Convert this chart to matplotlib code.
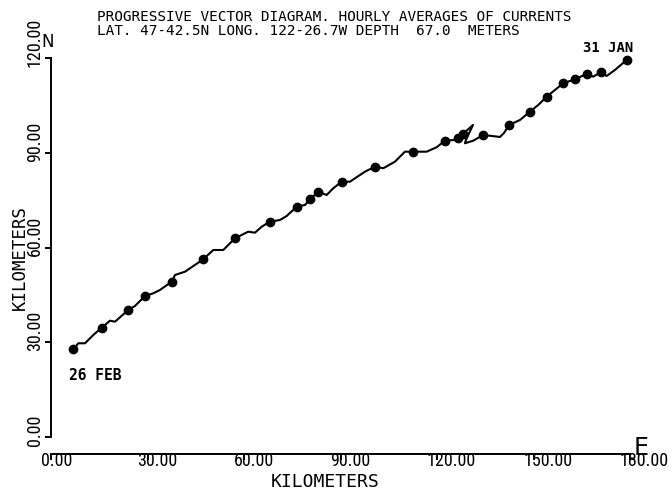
import matplotlib
matplotlib.use('Agg')
import matplotlib.pyplot as plt
from matplotlib import font_manager
from matplotlib.transforms import ScaledTranslation, blended_transform_factory

# Progressive vector path (km east, km north)
path_x = [6.93, 8.49, 10.57, 13.15, 15.76, 18.34, 19.89, 24.03, 26.11, 29.22,
          31.80, 33.88, 37.52, 38.55, 41.65, 47.34, 50.45, 53.56, 57.20, 61.33,
          63.41, 65.50, 68.08, 71.18, 73.27, 76.38, 78.96, 80.51, 83.09, 85.70,
          87.75, 90.36, 92.94, 96.05, 97.61, 100.72, 103.30, 106.93, 110.04, 112.62,
          116.79, 119.89, 122.47, 125.58, 126.52, 128.07, 131.18, 129.00, 128.69, 131.27,
          134.38, 139.57, 140.82, 142.46, 145.79, 148.90, 151.48, 154.09, 156.67, 159.25,
          162.88, 166.52, 168.57, 170.87, 172.74, 175.32, 178.96]
path_y = [27.77, 29.67, 29.67, 32.30, 34.61, 36.83, 36.51, 40.22, 41.48, 44.65,
          45.50, 46.55, 49.18, 51.30, 52.34, 56.27, 59.21, 59.21, 62.92, 65.01,
          64.69, 66.59, 68.18, 68.71, 69.98, 72.93, 73.46, 75.27, 77.68, 76.63,
          78.75, 80.84, 80.84, 82.96, 84.01, 85.59, 85.09, 87.18, 90.34, 90.34,
          90.34, 91.74, 93.82, 94.05, 94.68, 95.95, 98.80, 94.05, 93.00, 93.82,
          95.63, 95.00, 96.26, 98.80, 100.38, 103.01, 105.13, 107.76, 109.88, 112.00,
          113.27, 114.95, 114.09, 115.48, 114.31, 116.21, 119.38]
# indices of the daily dots along the path
day_idx = [0, 4, 7, 9, 12, 15, 18, 22, 25, 27, 28, 31, 35, 39, 42, 44, 45,
           50, 53, 55, 57, 59, 60, 61, 63, 66]

xticks = [0, 30, 60, 90, 120, 150, 180]
yticks = [0, 30, 60, 90, 120]

W, H = 672, 493
names = {f.name for f in font_manager.fontManager.ttflist}
narrow = 'DejaVu Sans'
for cand in ['Liberation Sans Narrow', 'Roboto Condensed', 'Open Sans Condensed']:
    if cand in names:
        narrow = cand
        break
mono = 'DejaVu Sans Mono'

fig = plt.figure(figsize=(W / 100, H / 100), dpi=100)
ax = fig.add_axes([51 / W, (H - 437) / H, (630 - 51) / W, (437 - 58) / H])
ax.set_xlim(0, 180)
ax.set_ylim(0, 120)

ax.plot(path_x, path_y, color='black', lw=1.5, solid_joinstyle='round', clip_on=False)
ax.plot([path_x[i] for i in day_idx], [path_y[i] for i in day_idx], 'o',
        color='black', ms=6, clip_on=False)

for s in ['top', 'right']:
    ax.spines[s].set_visible(False)
ax.spines['bottom'].set_position(('outward', 12))
for s in ['left', 'bottom']:
    ax.spines[s].set_linewidth(1.4)
ax.set_xticks(xticks)
ax.set_yticks(yticks)
ax.tick_params(direction='out', length=4.5, width=1.4, labelbottom=False, labelleft=False)

# tick labels, placed the way the plotter did it
dpi_t = fig.dpi_scale_trans
tick_font = dict(fontsize=13, family=narrow, fontstretch='condensed')
xt = blended_transform_factory(ax.transData, ax.transAxes)
for v in xticks:
    ax.text(v, 0, '%.2f' % v, transform=xt + ScaledTranslation(-10 / 100, -15 / 100, dpi_t),
            ha='left', va='top', **tick_font)
yt = blended_transform_factory(ax.transAxes, ax.transData)
for v in yticks:
    ax.text(0, v, '%.2f' % v, transform=yt + ScaledTranslation(-7 / 100, -9 / 100, dpi_t),
            ha='right', va='bottom', rotation=90, **tick_font)

fig.text(97 / W, 1 - 17 / H, 'PROGRESSIVE VECTOR DIAGRAM. HOURLY AVERAGES OF CURRENTS',
         ha='left', va='center', fontsize=10.4, family=mono)
fig.text(97 / W, 1 - 31 / H, 'LAT. 47-42.5N LONG. 122-26.7W DEPTH  67.0  METERS',
         ha='left', va='center', fontsize=10.4, family=mono)

fig.text(325 / W, 1 - 482 / H, 'KILOMETERS', ha='center', va='center', fontsize=13, family=mono)
fig.text(20 / W, 1 - 258 / H, 'KILOMETERS', ha='center', va='center', rotation=90,
         fontsize=12.5, family=mono)

ax.text(-1.2, 125.1, 'N', ha='center', va='center', fontsize=12, clip_on=False)
ax.text(183.4, -3.5, 'E', ha='center', va='center', fontsize=17, clip_on=False)
ax.text(165.4, 123.3, '31 JAN', ha='left', va='center', fontsize=10, family=mono,
        weight='bold', clip_on=False)
ax.text(5.6, 19.6, '26 FEB', ha='left', va='center', fontsize=10.5, family=mono,
        weight='bold', clip_on=False)

fig.savefig('out.png', dpi=100)
